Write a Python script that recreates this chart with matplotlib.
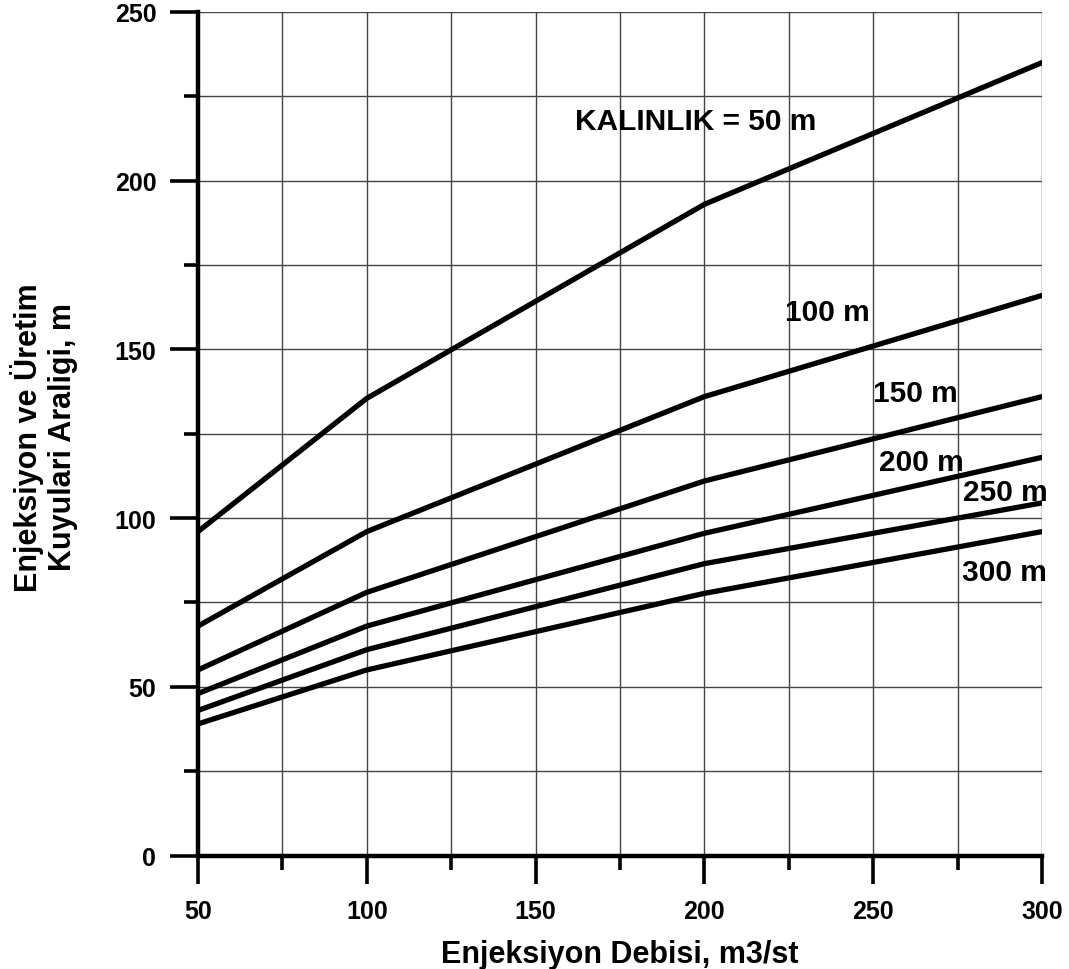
import matplotlib
matplotlib.use("Agg")
import matplotlib.pyplot as plt
from matplotlib.ticker import MultipleLocator

plt.rcParams['font.family'] = ['Liberation Sans', 'DejaVu Sans']
plt.rcParams['font.weight'] = 'bold'

debi = [50, 100, 200, 300]
thickness_labels = ["KALINLIK = 50 m", "100 m", "150 m", "200 m", "250 m", "300 m"]
spacing = {
    "50": [96, 135.5, 193, 235],
    "100": [68, 96, 136, 166],
    "150": [55, 78, 111, 136],
    "200": [48, 68, 95.5, 118],
    "250": [43, 61, 86.5, 104.5],
    "300": [39, 55, 77.7, 96],
}
label_x = [161.7, 223.9, 250.0, 251.7, 276.5, 276.2]
label_y = [217.8, 161.1, 137.0, 116.6, 107.8, 84.0]

x_ticks = [50, 100, 150, 200, 250, 300]
y_ticks = [0, 50, 100, 150, 200, 250]

fig = plt.figure(figsize=(10.69, 9.70), dpi=100)
ax = fig.add_axes([0.1852, 0.117, 0.7895, 0.8696])

for key in spacing:
    ax.plot(debi, spacing[key], color='black', lw=3.8, solid_capstyle='round',
            solid_joinstyle='round', zorder=3)

for txt, tx, ty in zip(thickness_labels, label_x, label_y):
    ax.text(tx, ty, txt, fontsize=21.5, fontweight='bold', ha='left', va='center', zorder=4)

ax.set_xlim(50, 300)
ax.set_ylim(0, 250)
ax.set_xticks(x_ticks)
ax.set_yticks(y_ticks)
ax.xaxis.set_minor_locator(MultipleLocator(25))
ax.yaxis.set_minor_locator(MultipleLocator(25))

ax.grid(True, which='both', color='#444444', lw=1.0, zorder=1)
ax.set_axisbelow(True)

for s in ['top', 'right']:
    ax.spines[s].set_visible(False)
for s in ['left', 'bottom']:
    ax.spines[s].set_linewidth(3.2)
    ax.spines[s].set_zorder(5)

ax.tick_params(which='major', direction='out', length=20, width=2.6, labelsize=18)
ax.tick_params(which='minor', direction='out', length=10, width=2.6)
ax.tick_params(axis='y', which='major', pad=10)
ax.tick_params(axis='x', which='major', pad=11)
for lab in ax.get_xticklabels() + ax.get_yticklabels():
    lab.set_fontweight('bold')

ax.set_xlabel("Enjeksiyon Debisi, m3/st", fontsize=22, fontweight='bold', va='center')
ax.xaxis.set_label_coords(0.5, -0.117)
ax.set_ylabel("Enjeksiyon ve Üretim\nKuyulari Araligi, m", fontsize=22, fontweight='bold',
              va='center', ha='center', multialignment='center')
ax.yaxis.set_label_coords(-0.1825, 0.497)

fig.savefig("out.png", dpi=100, facecolor='white')
